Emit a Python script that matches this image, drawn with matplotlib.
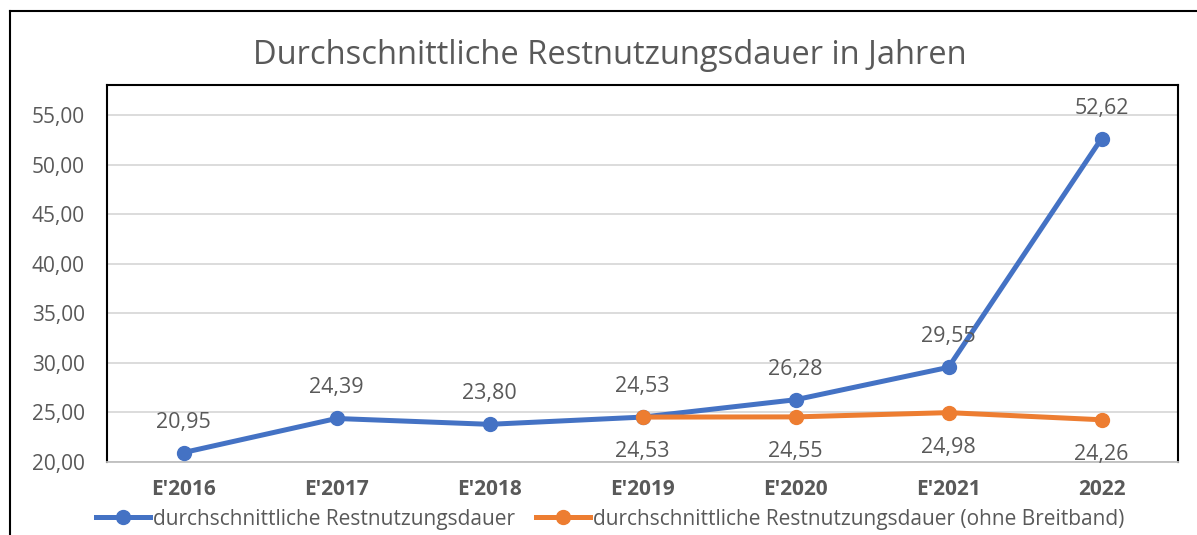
import matplotlib.pyplot as plt
from matplotlib.lines import Line2D

categories = ["E'2016", "E'2017", "E'2018", "E'2019", "E'2020", "E'2021", "2022"]
restnutzung = [20.95, 24.39, 23.80, 24.53, 26.28, 29.55, 52.62]
ohne_breitband = [None, None, None, 24.53, 24.55, 24.98, 24.26]
y_ticks = [20, 25, 30, 35, 40, 45, 50, 55]

blue = "#4472C4"
orange = "#ED7D31"
text_col = "#595959"


def de(v):
    return f"{v:.2f}".replace(".", ",")


plt.rcParams["font.family"] = ["Open Sans", "DejaVu Sans"]

fig = plt.figure(figsize=(11.97, 5.35), dpi=100)
W, H = 1197, 535
ax = fig.add_axes([107 / W, 1 - 462 / H, (1178 - 107) / W, (462 - 85) / H])

xs = [i + 0.5 for i in range(len(categories))]
ax.plot(xs, restnutzung, color=blue, lw=3.6, marker="o", ms=10, zorder=3, solid_capstyle="round")
ob_x = [x for x, v in zip(xs, ohne_breitband) if v is not None]
ob_y = [v for v in ohne_breitband if v is not None]
ax.plot(ob_x, ob_y, color=orange, lw=3.6, marker="o", ms=10, zorder=4, solid_capstyle="round")

for x, v in zip(xs, restnutzung):
    ax.annotate(de(v), (x, v), xytext=(0, 22), textcoords="offset points",
                ha="center", va="center", fontsize=15.5, color=text_col)
for x, v in zip(ob_x, ob_y):
    ax.annotate(de(v), (x, v), xytext=(0, -25), textcoords="offset points",
                ha="center", va="center", fontsize=15.5, color=text_col)

ax.set_xlim(0, 7)
ax.set_ylim(20, 58.03)
ax.set_yticks(y_ticks)
ax.set_yticklabels([de(t) for t in y_ticks], fontsize=15, color=text_col)
ax.set_xticks(xs)
ax.set_xticklabels(categories, fontsize=15, fontweight="bold", color=text_col)
ax.tick_params(length=0)
ax.tick_params(axis="y", pad=16)
ax.tick_params(axis="x", pad=12)
ax.grid(axis="y", color="#D9D9D9", lw=1.3)
ax.set_axisbelow(True)
for side in ["left", "top", "right"]:
    ax.spines[side].set_color("black")
    ax.spines[side].set_linewidth(1.5)
ax.spines["bottom"].set_color("#BFBFBF")
ax.spines["bottom"].set_linewidth(1.3)

fig.text(610 / W, 1 - 56 / H, "Durchschnittliche Restnutzungsdauer in Jahren",
         ha="center", va="center", fontsize=23.5, color=text_col)

# outer frame (left and top edges)
fig.add_artist(Line2D([10 / W, 10 / W], [0, 1 - 11 / H], transform=fig.transFigure, color="black", lw=1.5))
fig.add_artist(Line2D([10 / W, 1], [1 - 11 / H, 1 - 11 / H], transform=fig.transFigure, color="black", lw=1.5))

handles = [
    Line2D([], [], color=blue, lw=3.6, marker="o", ms=10),
    Line2D([], [], color=orange, lw=3.6, marker="o", ms=10),
]
fig.legend(handles, ["durchschnittliche Restnutzungsdauer",
                     "durchschnittliche Restnutzungsdauer (ohne Breitband)"],
           loc="center", bbox_to_anchor=(610 / W, 1 - 519 / H), ncol=2, frameon=False,
           fontsize=15, labelcolor=text_col, handlelength=2.6, handletextpad=0.15,
           columnspacing=1.0, borderpad=0)

fig.savefig("out.png", dpi=100)
